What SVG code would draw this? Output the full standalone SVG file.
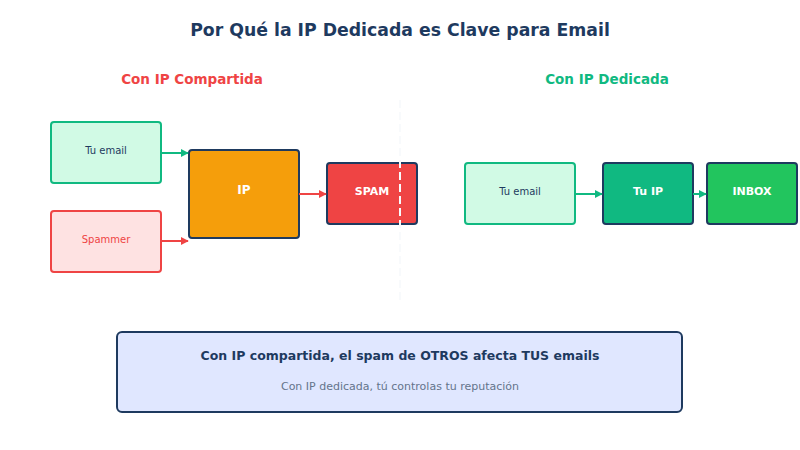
<svg xmlns="http://www.w3.org/2000/svg" width="800" height="450" viewBox="0 0 800 450">
<style>
text{font-family:"DejaVu Sans","Noto Sans",sans-serif;text-anchor:middle;dominant-baseline:central}
.t{font-size:17.3px;font-weight:bold;fill:#1e3a5f}
.h{font-size:13.5px;font-weight:bold}
.s{font-size:10px}
.w{font-size:12px;font-weight:bold;fill:#fff}
.box{stroke-width:2}
.dk{stroke:#1e3a5f}
.g{stroke:#10b981}
.r{stroke:#ef4444}
.cg{stroke:#10b981;stroke-width:2;fill:none}
.cr{stroke:#ef4444;stroke-width:2;fill:none}
</style>
<defs>
<marker id="ag" viewBox="0 0 10 10" refX="9" refY="5" markerWidth="4" markerHeight="4" orient="auto"><path d="M0,0L10,5L0,10z" fill="#10b981"/></marker>
<marker id="ar" viewBox="0 0 10 10" refX="9" refY="5" markerWidth="4" markerHeight="4" orient="auto"><path d="M0,0L10,5L0,10z" fill="#ef4444"/></marker>
</defs>
<rect width="800" height="450" fill="#fff"/>
<text class="t" x="400" y="30">Por Qué la IP Dedicada es Clave para Email</text>
<text class="h" x="192" y="79" fill="#ef4444">Con IP Compartida</text>
<text class="h" x="607" y="79" fill="#10b981">Con IP Dedicada</text>

<g id="n-tuemail-l"><rect class="box g" x="51" y="122" width="110" height="61" rx="3" fill="#d1fae5"/><text class="s" x="106" y="150" fill="#1e3a5f">Tu email</text></g>
<g id="n-spammer"><rect class="box r" x="51" y="211" width="110" height="61" rx="3" fill="#fee2e2"/><text class="s" x="106" y="239" fill="#ef4444">Spammer</text></g>
<g id="n-ip"><rect class="box dk" x="189" y="150" width="110" height="88" rx="3" fill="#f59e0b"/><text class="w" x="244" y="190">IP</text></g>
<g id="n-spam"><rect class="box dk" x="327" y="163" width="90" height="61" rx="3" fill="#ef4444"/><text class="w" x="372" y="191" style="font-size:11px">SPAM</text></g>
<g id="n-tuemail-r"><rect class="box g" x="465" y="163" width="110" height="61" rx="3" fill="#d1fae5"/><text class="s" x="520" y="191" fill="#1e3a5f">Tu email</text></g>
<g id="n-tuip"><rect class="box dk" x="603" y="163" width="90" height="61" rx="3" fill="#10b981"/><text class="w" x="648" y="191" style="font-size:11px">Tu IP</text></g>
<g id="n-inbox"><rect class="box dk" x="707" y="163" width="90" height="61" rx="3" fill="#22c55e"/><text class="w" x="752" y="191" style="font-size:11px">INBOX</text></g>

<g id="connectors">
<line class="cg" x1="161" y1="153" x2="188" y2="153" marker-end="url(#ag)"/>
<line class="cr" x1="161" y1="241" x2="188" y2="241" marker-end="url(#ar)"/>
<line class="cr" x1="299" y1="194" x2="326" y2="194" marker-end="url(#ar)"/>
<line class="cg" x1="575" y1="194" x2="602" y2="194" marker-end="url(#ag)"/>
<line class="cg" x1="693" y1="194" x2="706" y2="194" marker-end="url(#ag)"/>
</g>

<line id="divider" x1="400" y1="100" x2="400" y2="300" stroke="#f8fafc" stroke-width="2" stroke-dasharray="8,4"/>

<g id="n-note"><rect x="117" y="332" width="565" height="80" rx="5" fill="#e0e7ff" stroke="#1e3a5f" stroke-width="2"/>
<text x="400" y="355" fill="#1e3a5f" style="font-size:12.5px;font-weight:bold">Con IP compartida, el spam de OTROS afecta TUS emails</text>
<text x="400" y="386" fill="#64748b" style="font-size:11px">Con IP dedicada, tú controlas tu reputación</text></g>
</svg>
